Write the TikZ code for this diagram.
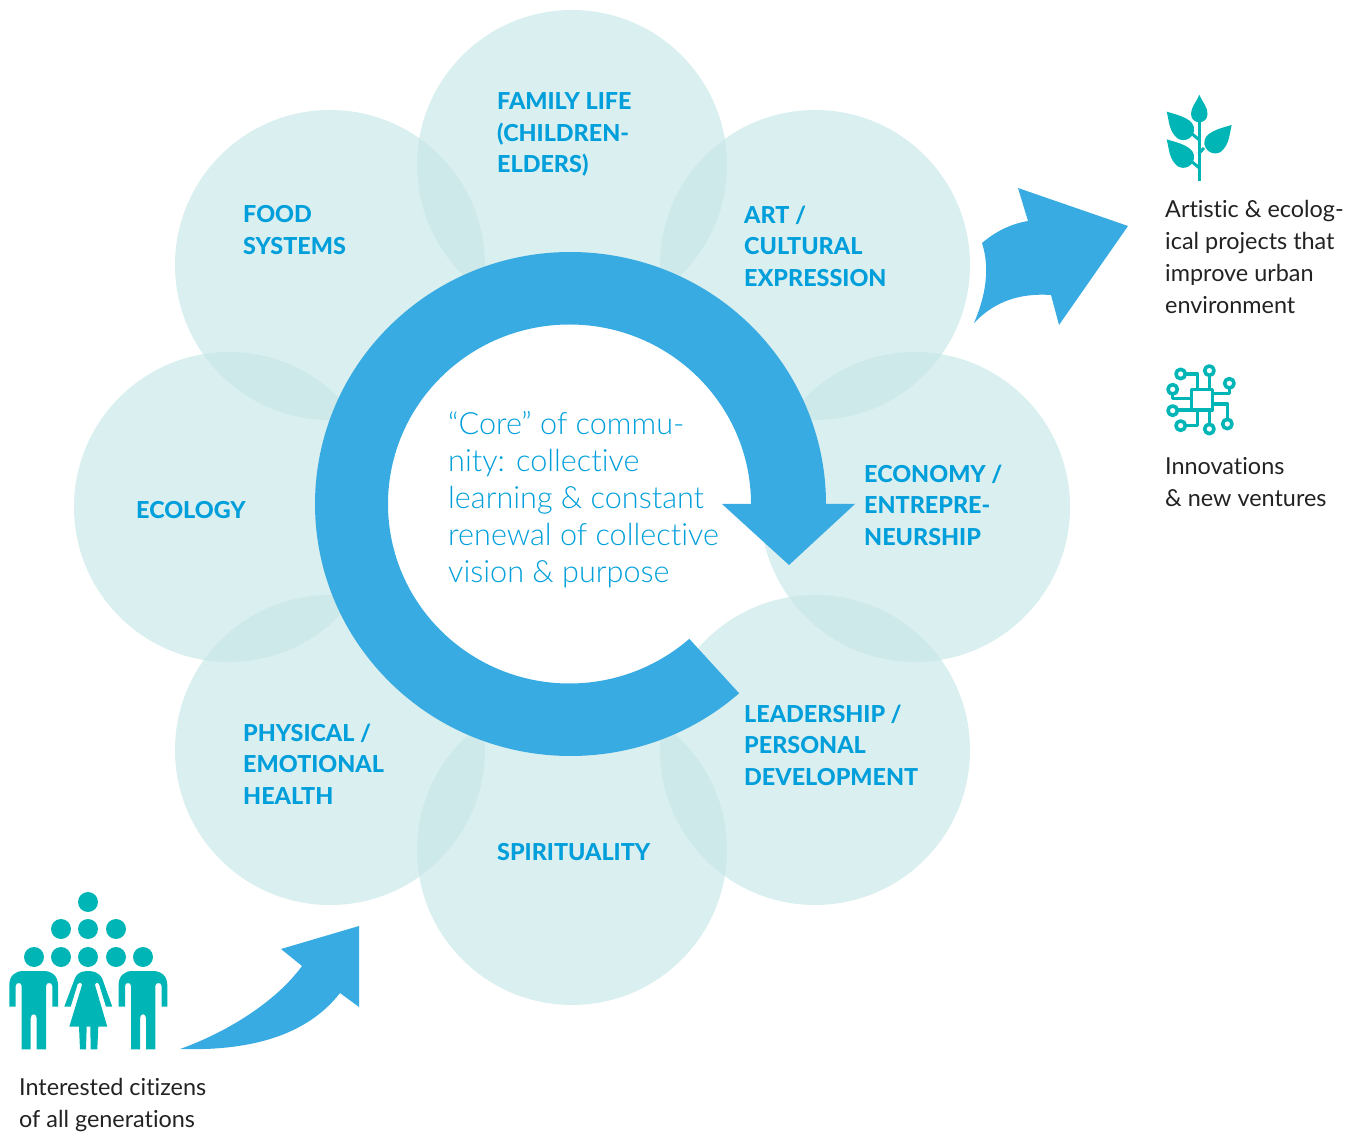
\documentclass[tikz,border=0pt]{standalone}
\usepackage{fontspec}
\setmainfont[Ligatures=NoCommon]{Lato}
\newfontfamily\thinfont[Ligatures=NoCommon]{Lato Light}
\newfontfamily\heavyfont[Ligatures=NoCommon]{Lato Heavy}
\definecolor{petalfill}{HTML}{C6E6E6}
\definecolor{ringblue}{HTML}{38ABE2}
\definecolor{labelblue}{HTML}{009FDB}
\definecolor{iconteal}{HTML}{00B5B5}
\definecolor{bodytext}{HTML}{222222}
\tikzset{
	petal/.style={fill=petalfill,fill opacity=0.65},
	petallabel/.style={anchor=north west,inner sep=0pt,align=left,text=labelblue,font=\fontsize{23.35}{31.5}\heavyfont},
	sidelabel/.style={anchor=north west,inner sep=0pt,align=left,text=bodytext,font=\fontsize{23.4}{32}\selectfont},
	corelabel/.style={anchor=north west,inner sep=0pt,align=left,text=labelblue,font=\fontsize{30.6}{37}\thinfont},
	trace/.style={draw=iconteal,line width=3.6pt,line join=round}
}

\begin{document}
\begin{tikzpicture}[x=1pt,y=1pt]
	\useasboundingbox (0,0) rectangle (1356,1133);

	% petals
	\foreach \cx/\cy in {572/968,815/868,915/626,815/383,572/283,330/383,229/626,330/868}
		\fill[petal] (\cx,\cy) circle[radius=155pt];

	% ring with its head
	\fill[ringblue] (570.5,629) ++(-48.7:255.5pt and 252pt) arc[start angle=-48.7,end angle=-360,x radius=255.5pt,y radius=252pt]
		-- (855,629) -- (789,568) -- (722,629) -- (751,629)
		arc[start angle=0,end angle=311.3,x radius=181.5pt,y radius=179.5pt] -- cycle;

	% arrow out
	\fill[ringblue] (982,890) .. controls (995,901) and (1010,909) .. (1028,912)
		-- (1018,945) -- (1128,907) -- (1059,808) -- (1051,838)
		.. controls (1020,840) and (995,832) .. (974,810)
		.. controls (986,838) and (990,865) .. (982,890) -- cycle;

	% arrow in
	\fill[ringblue] (180,84) .. controls (225,100) and (275,130) .. (302,167)
		-- (281,184) -- (359,207) -- (359,126) -- (340,140)
		.. controls (305,95) and (245,82) .. (180,84) -- cycle;

	% people
	\foreach \px/\py in {88/231,61/204,88/204,116/204,34/176,61/176,88/176,116/176,143/176}
		\fill[iconteal] (\px,\py) circle[radius=10pt];
	\foreach \dx in {0,109.3}
		\fill[iconteal,shift={(\dx,0)}] (9.3,126.3) -- (9.3,148) .. controls (9.3,157) and (15,162) .. (23.3,162)
			-- (43.3,162) .. controls (52,162) and (58,157) .. (58,148) -- (58,126.3) -- (52.3,126.3) -- (52.3,147)
			.. controls (52.3,151) and (46,151) .. (46,147) -- (46,83.7) -- (36.7,83.7) -- (36.7,115)
			.. controls (36.7,120) and (30.7,120) .. (30.7,115) -- (30.7,83.7) -- (21.7,83.7) -- (21.7,147)
			.. controls (21.7,151) and (15.7,151) .. (15.7,147) -- (15.7,126.3) -- cycle;
	\fill[iconteal] (64.3,126.3) -- (70.7,126.3) -- (77.7,149) .. controls (78.5,151) and (81.5,151) .. (82,148)
		-- (69.3,106.3) -- (79,106.3) -- (80,83.7) -- (86,83.7) -- (86.7,106.3) -- (90.3,106.3) -- (90.7,83.7)
		-- (97.3,83.7) -- (98.3,106.3) -- (107.3,106.3) -- (95,148) .. controls (95.5,151) and (98.5,151) .. (99,149)
		-- (106,126.3) -- (112.3,126.3) -- (102,155) .. controls (99,160) and (94,162) .. (88.3,162)
		.. controls (82,162) and (77,160) .. (75,155) -- cycle;

	% plant
	\fill[iconteal] (1197.6,952) rectangle (1201,1012);
	\draw[iconteal,line width=3pt] (1191,1000) -- (1199.3,993);
	\draw[iconteal,line width=3pt] (1191,972) -- (1199.3,965);
	\draw[iconteal,line width=3pt] (1204,985) -- (1199.3,980);
	\fill[iconteal] (1199.3,1038.3) .. controls (1203,1030) and (1207.5,1026) .. (1207.5,1019)
		.. controls (1207.5,1008) and (1191,1008) .. (1191,1019) .. controls (1191,1026) and (1196,1030) .. (1199.3,1038.3) -- cycle;
	\foreach \dy in {0,-27.7}
		\fill[iconteal,shift={(0,\dy)}] (1166.7,1021.3) .. controls (1178,1018) and (1196,1014) .. (1194,1002)
			.. controls (1192,992) and (1180,990) .. (1175,997) .. controls (1169,1004) and (1169,1012) .. (1166.7,1021.3) -- cycle;
	\fill[iconteal] (1231.7,1008) .. controls (1220.4,1004.7) and (1202.4,1000.7) .. (1204.4,988.7)
		.. controls (1206.4,978.7) and (1218.4,976.7) .. (1223.4,983.7) .. controls (1229.4,990.7) and (1229.4,998.7) .. (1231.7,1008) -- cycle;

	% chip
	\begin{scope}[shift={(1150,778)},x=0.3333pt,y=-0.3333pt]
		\draw[trace] (125,103) rectangle (187,165);
		\foreach \rx/\ry in {92/57,178/47,238/85,68/103,68/167,92/212,178/222,232/207}
			\draw[trace] (\rx,\ry) circle[radius=4.7pt];
		\draw[trace] (106,57) -- (142,57) -- (142,103);
		\draw[trace] (178,61) -- (178,103);
		\draw[trace] (238,99) -- (238,115) -- (187,115);
		\draw[trace] (68,117) -- (68,131) -- (125,131);
		\draw[trace] (82,165) -- (125,165);
		\draw[trace] (106,212) -- (142,212) -- (142,165);
		\draw[trace] (178,208) -- (178,165);
		\draw[trace] (232,193) -- (232,147) -- (187,147);
	\end{scope}

	% labels
	\node[petallabel] (familylife) at (497,1040.5) {FAMILY LIFE\\(CHILDREN-\\ELDERS)};
	\node[petallabel] (food) at (243,927.5) {FOOD\\SYSTEMS};
	\node[petallabel] (art) at (744,927.5) {ART /\\CULTURAL\\EXPRESSION};
	\node[petallabel] (economy) at (864,668.5) {ECONOMY /\\ENTREPRE-\\NEURSHIP};
	\node[petallabel] (ecology) at (136,631.5) {ECOLOGY};
	\node[petallabel] (leadership) at (744,428.5) {LEADERSHIP /\\PERSONAL\\DEVELOPMENT};
	\node[petallabel] (physical) at (243,409.5) {PHYSICAL /\\EMOTIONAL\\HEALTH};
	\node[petallabel] (spirituality) at (497,289.5) {SPIRITUALITY};
	\node[corelabel] (core) at (448,722) {“Core” of commu-\\nity: collective\\learning \& constant\\renewal of collective\\vision \& purpose};
	\node[sidelabel] (projects) at (1165,933) {Artistic \& ecolog-\\ical projects that\\improve urban\\environment};
	\node[sidelabel] (ventures) at (1165,676) {Innovations\\\& new ventures};
	\node[sidelabel] (citizens) at (19,55) {Interested citizens\\of all generations};
\end{tikzpicture}
\end{document}
